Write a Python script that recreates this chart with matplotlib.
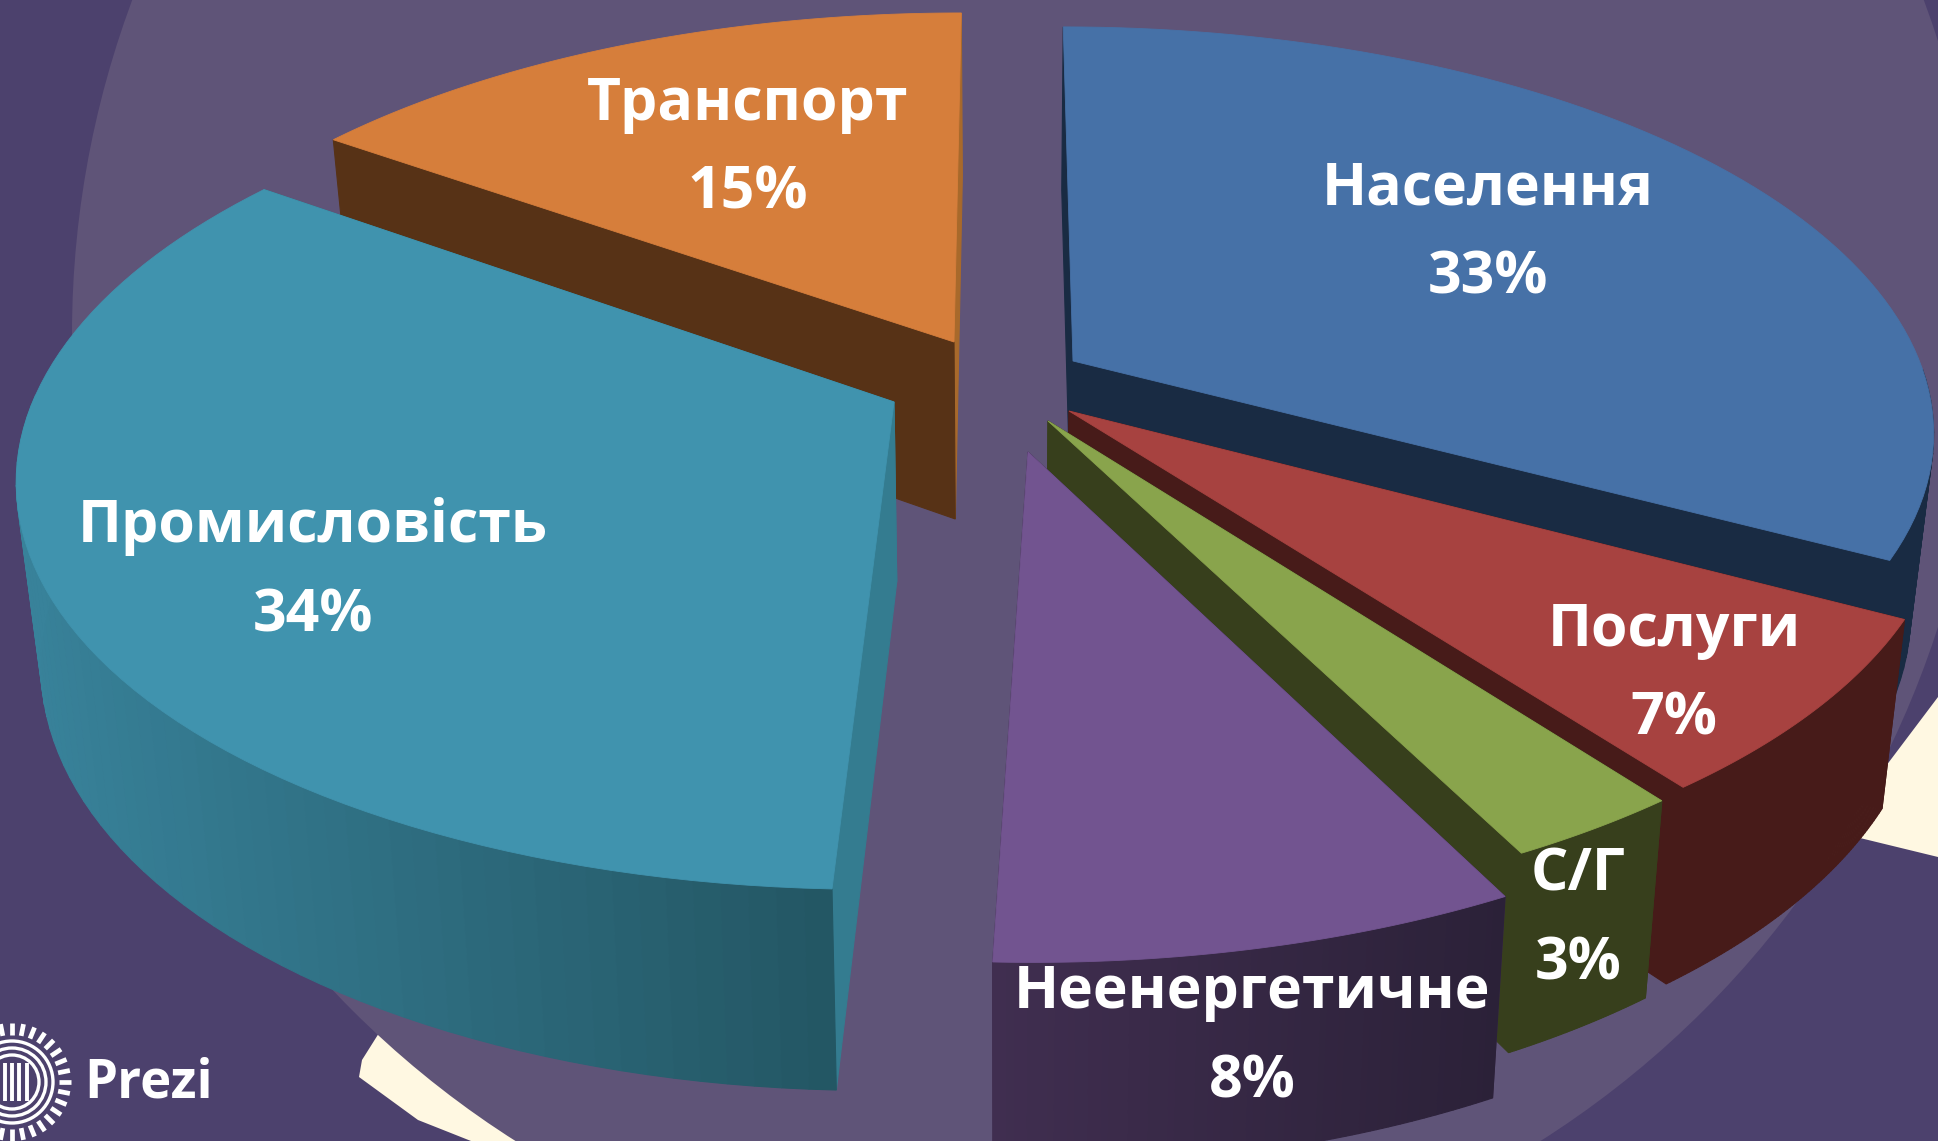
import matplotlib
matplotlib.use('Agg')
import matplotlib.pyplot as plt
from matplotlib.patches import Circle, Polygon, Rectangle
from matplotlib.colors import to_rgb
import numpy as np

# Data (labels show the rounded shares)
categories = ['Населення', 'Послуги', 'С/Г', 'Неенергетичне', 'Промисловість', 'Транспорт']
shares = [32.8, 6.9, 2.8, 8.1, 34.2, 15.2]

# Styles
top_colors = ['#4671A7', '#A74240', '#89A44C', '#725490', '#4093AE', '#D67E3B']
wall_left = ['#192B43', '#471B19', '#373F1C', '#402E50', '#38829A', '#573216']
wall_right = ['#192B43', '#471B19', '#373F1C', '#2B2138', '#235663', '#573216']
face_start = ['#192B43', '#471B19', '#373F1C', '#402E50', '#347C90', '#573216']
face_end = ['#192B43', '#471B19', '#373F1C', '#402E50', '#347C90', '#A8692B']
apex_x = [1073, 1069, 1048, 1028, 894, 954]
apex_y = [361, 411, 421, 452, 402, 342]
draw_order = [5, 0, 4, 1, 2, 3]
label_x = [1488, 1674, 1578, 1252, 313, 748]
label_y = [189, 631, 875, 993, 527, 105]
pct_y = [278, 719, 964, 1082, 616, 193]

# Projection of the pie disc onto the picture
cx, cy = 1005, 390
A, B, P = 857, 400, 0.17


def project(x, y):
    w = 1 + P * y
    return cx + A * x / w, cy - B * y / w


def unproject(sx, sy):
    dy = sy - cy
    y = -dy / (B + P * dy)
    return (sx - cx) * (1 + P * y) / A, y


def lower(sx, sy):
    # same point on the underside of the slice
    return cx + (sx - cx) * 0.975, sy + 177 + 0.044 * (sy - 342)


def quad(ax, p0, p1, color, z):
    b0, b1 = lower(*p0), lower(*p1)
    ax.add_patch(Polygon([p0, p1, b1, b0], closed=True, fc=color, ec=color, lw=0.8, zorder=z))


def mix(c1, c2, t):
    c1, c2 = np.array(to_rgb(c1)), np.array(to_rgb(c2))
    return tuple(c1 + (c2 - c1) * t)


fig = plt.figure(figsize=(19.38, 11.41), dpi=100)
ax = fig.add_axes([0, 0, 1, 1])
ax.set_xlim(0, 1938)
ax.set_ylim(1141, 0)
ax.axis('off')

# Background
ax.add_patch(Rectangle((0, 0), 1938, 1141, fc='#4C416D', ec='none', zorder=0))
ax.add_patch(Polygon([(379, 1033), (362, 1060), (359, 1077), (418, 1120), (471, 1141), (600, 1141), (500, 1000)],
                     closed=True, fc='#FFF8E2', ec='none', zorder=1))
ax.add_patch(Polygon([(1938, 697), (1800, 880), (1860, 838), (1938, 857)],
                     closed=True, fc='#FFF8E2', ec='none', zorder=1))
ax.add_patch(Circle((1028, 334), 956, fc='#5F5478', ec='none', zorder=2))

# Pie slices, back to front
edges = np.radians(np.cumsum([0] + shares) * 3.6)
for n, i in enumerate(draw_order):
    z = 10 + n
    ex, ey = unproject(apex_x[i], apex_y[i])
    theta = np.linspace(edges[i], edges[i + 1], 80)
    arc_x, arc_y = project(ex + np.sin(theta), ey + np.cos(theta))
    arc = list(zip(arc_x, arc_y))
    apex = (apex_x[i], apex_y[i])

    # cut faces
    quad(ax, apex, arc[-1], face_end[i], z)
    quad(ax, apex, arc[0], face_start[i], z)

    # outer wall, shaded from left to right; the back half faces away
    x_lo, x_hi = arc_x.min(), arc_x.max()
    for k in range(len(arc) - 1):
        if np.cos(theta[k]) > 0:
            continue
        t = np.clip(((arc_x[k] + arc_x[k + 1]) / 2 - x_lo) / max(x_hi - x_lo, 1), 0, 1)
        quad(ax, arc[k], arc[k + 1], mix(wall_left[i], wall_right[i], t), z)

    # top surface
    ax.add_patch(Polygon([apex] + arc, closed=True, fc=top_colors[i], ec=top_colors[i], lw=0.6, zorder=z))

    ax.text(label_x[i], label_y[i], categories[i], color='white', fontsize=42.5, fontweight='bold',
            family='Open Sans', ha='center', va='center', zorder=30)
    ax.text(label_x[i], pct_y[i], f'{round(shares[i])}%', color='white', fontsize=42.5, fontweight='bold',
            family='Open Sans', ha='center', va='center', zorder=30)

# Prezi logo
lx, ly = 12, 1082
for a in np.radians(np.arange(0, 360, 11.25)):
    ax.plot([lx + 47 * np.cos(a), lx + 59 * np.cos(a)], [ly + 47 * np.sin(a), ly + 59 * np.sin(a)],
            color='white', lw=3.4, solid_capstyle='butt', zorder=31)
for r in [41, 34, 27]:
    ax.add_patch(Circle((lx, ly), r, fc='none', ec='white', lw=2.4, zorder=31))
for dx in [-15, -7, 0, 7, 15]:
    ax.plot([lx + dx, lx + dx], [ly - 19, ly + 19], color='white', lw=2.8, solid_capstyle='butt', zorder=31)
ax.text(84, 1083, 'Prezi', color='white', fontsize=38, fontweight='bold', family='Open Sans',
        ha='left', va='center', zorder=31)

fig.savefig('out.png', dpi=100)
